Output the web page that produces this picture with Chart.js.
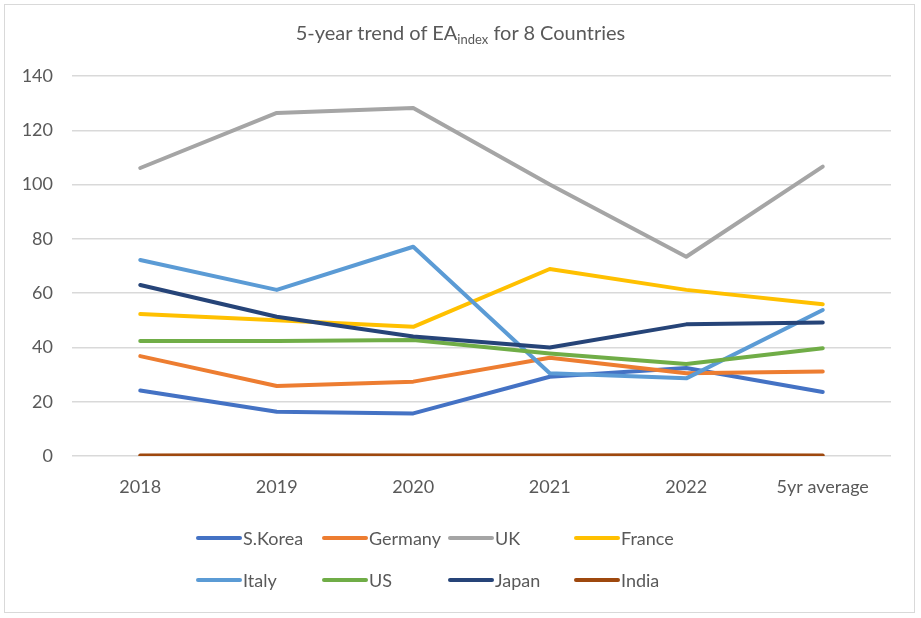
<!DOCTYPE html>
<html>
<head>
<meta charset="utf-8">
<script src="https://cdn.jsdelivr.net/npm/chart.js@4/dist/chart.umd.min.js"></script>
<style>
  html, body { margin: 0; padding: 0; background: #fff; }
  body { width: 921px; height: 618px; position: relative; overflow: hidden; font-family: Lato, "Open Sans", sans-serif; color: #595959; }
  #frame { position: absolute; left: 4px; top: 4px; width: 911px; height: 609px; border: 1.5px solid #d9d9d9; box-sizing: border-box; }
  #title { position: absolute; left: 0; width: 921px; top: 20px; text-align: center; font-size: 20px; color: #595959; }
  #title sub { font-size: 13px; vertical-align: -4px; line-height: 0; }
  #wrap { position: absolute; left: 0; top: 0; width: 921px; height: 618px; }
  #legend { position: absolute; left: 196px; top: 524px; display: grid; grid-template-columns: repeat(4, 126px); grid-auto-rows: 42px; font-size: 18px; color: #595959; }
  .li { display: flex; align-items: center; height: 28px; white-space: nowrap; }
  .sw { width: 46px; height: 4px; border-radius: 2px; margin-right: 1px; }
</style>
</head>
<body>
<div id="wrap"><canvas id="c" width="921" height="618"></canvas></div>
<div id="frame"></div>
<div id="title">5-year trend of EA<sub>index</sub> for 8 Countries</div>
<div id="legend"></div>
<script>
const categories = ["2018", "2019", "2020", "2021", "2022", "5yr average"];
const seriesNames = ["S.Korea", "Germany", "UK", "France", "Italy", "US", "Japan", "India"];
const sKorea  = [24.1, 16.3, 15.7, 29.2, 32.4, 23.6];
const germany = [36.8, 25.8, 27.4, 36.2, 30.5, 31.1];
const uk      = [106.1, 126.4, 128.2, 100.0, 73.4, 106.6];
const france  = [52.3, 50.0, 47.6, 68.9, 61.2, 55.9];
const italy   = [72.2, 61.2, 77.1, 30.5, 28.6, 53.8];
const us      = [42.4, 42.4, 42.7, 37.8, 33.9, 39.7];
const japan   = [63.0, 51.3, 44.0, 40.0, 48.5, 49.2];
const india   = [0.2, 0.3, 0.2, 0.2, 0.3, 0.2];
const yTicks  = [0, 20, 40, 60, 80, 100, 120, 140];

const seriesValues = [sKorea, germany, uk, france, italy, us, japan, india];
const colors = ["#4472C4", "#ED7D31", "#A5A5A5", "#FFC000", "#5B9BD5", "#70AD47", "#264478", "#9E480E"];

const datasets = seriesNames.map((name, i) => ({
  label: name,
  data: seriesValues[i],
  borderColor: colors[i],
  backgroundColor: colors[i],
  borderWidth: 4,
  pointRadius: 0,
  pointHoverRadius: 0,
  tension: 0,
  fill: false,
  borderCapStyle: 'round',
  borderJoinStyle: 'round',
  order: seriesNames.length - i
}));

new Chart(document.getElementById('c'), {
  type: 'line',
  data: { labels: categories, datasets },
  options: {
    responsive: false,
    animation: false,
    events: [],
    layout: { padding: { left: 0, right: 30, top: 76, bottom: 112 } },
    plugins: { legend: { display: false }, title: { display: false }, tooltip: { enabled: false } },
    scales: {
      x: {
        offset: true,
        grid: { display: false, drawTicks: false },
        border: { display: false },
        ticks: { color: '#595959', font: { family: 'Lato', size: 18 }, padding: 20, maxRotation: 0 },
        afterFit: s => { s.height = 50; }
      },
      y: {
        min: 0, max: 140,
        afterBuildTicks: s => { s.ticks = yTicks.map(v => ({ value: v })); },
        grid: { color: '#d9d9d9', lineWidth: 1.5, drawTicks: false },
        border: { display: false },
        ticks: { color: '#595959', font: { family: 'Lato', size: 18 }, padding: 19 },
        afterFit: s => { s.width = 72; }
      }
    }
  }
});

const lg = document.getElementById('legend');
seriesNames.forEach((n, i) => {
  const d = document.createElement('div');
  d.className = 'li';
  d.innerHTML = '<span class="sw" style="background:' + colors[i] + '"></span><span>' + n + '</span>';
  lg.appendChild(d);
});
</script>
</body>
</html>
